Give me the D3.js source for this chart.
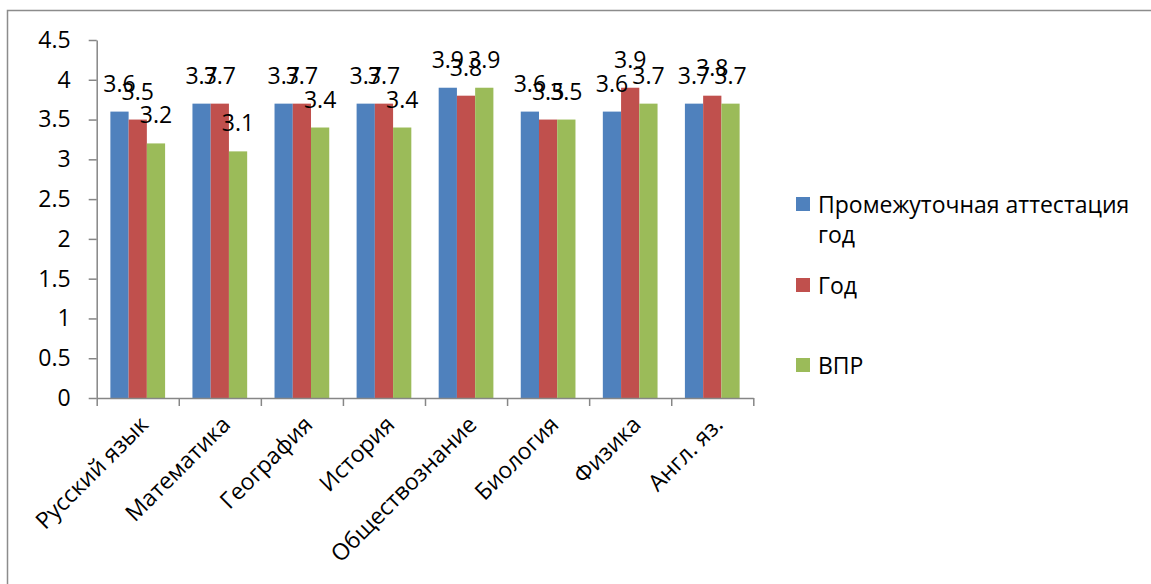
<!DOCTYPE html>
<html>
<head>
<meta charset="utf-8">
<script src="https://cdn.jsdelivr.net/npm/d3@7"></script>
<style>
  html, body { margin: 0; padding: 0; background: #fff; }
  svg { display: block; }
  text { font-family: "Open Sans", "Noto Sans", sans-serif; fill: #000; }
</style>
</head>
<body>
<svg id="chart" width="1151" height="584"></svg>
<script>
const categories = ["Русский язык", "Математика", "География", "История", "Обществознание", "Биология", "Физика", "Англ. яз."];
const seriesNames = ["Промежуточная аттестация год", "Год", "ВПР"];
const seriesLegendLines = [["Промежуточная аттестация", "год"], ["Год"], ["ВПР"]];
const seriesColors = ["#4F81BD", "#C0504D", "#9BBB59"];
const valuesAttestation = [3.6, 3.7, 3.7, 3.7, 3.9, 3.6, 3.6, 3.7];
const valuesYear = [3.5, 3.7, 3.7, 3.7, 3.8, 3.5, 3.9, 3.8];
const valuesVPR = [3.2, 3.1, 3.4, 3.4, 3.9, 3.5, 3.7, 3.7];
const yTicks = [0, 0.5, 1, 1.5, 2, 2.5, 3, 3.5, 4, 4.5];

const seriesValues = [valuesAttestation, valuesYear, valuesVPR];

const svg = d3.select("#chart");
const FS = 23;
const axisColor = "#868686";

// outer chart border (clipped by the picture edge at right/bottom)
svg.append("rect")
  .attr("x", 7.5).attr("y", 10.5)
  .attr("width", 1160).attr("height", 600)
  .attr("fill", "none").attr("stroke", "#8c8c8c").attr("stroke-width", 1.5);

const plotLeft = 96.7, plotRight = 753.3, plotTop = 40, plotBottom = 398;

const x = d3.scaleBand().domain(categories).range([plotLeft, plotRight]).paddingInner(0).paddingOuter(0);
const xs = d3.scaleBand().domain(seriesNames).range([0, x.bandwidth()]).paddingInner(0).paddingOuter(0.75);
const y = d3.scaleLinear().domain([0, 4.5]).range([plotBottom, plotTop]);

// bars
const groups = svg.append("g").selectAll("g")
  .data(categories)
  .join("g")
  .attr("transform", d => `translate(${x(d)},0)`);

seriesNames.forEach((s, si) => {
  groups.append("rect")
    .attr("x", x.bandwidth() * 0 + xs(s))
    .attr("y", (d, ci) => y(seriesValues[si][ci]))
    .attr("width", xs.bandwidth())
    .attr("height", (d, ci) => y(0) - y(seriesValues[si][ci]))
    .attr("fill", seriesColors[si]);
});

// y axis
const yAxis = d3.axisLeft(y).tickValues(yTicks).tickFormat(d => String(d))
  .tickSize(8).tickSizeOuter(0).tickPadding(18);
const gy = svg.append("g").attr("transform", `translate(${plotLeft},0)`).call(yAxis);
gy.selectAll("path,line").attr("stroke", axisColor).attr("stroke-width", 1.5);
gy.selectAll("text").style("font-size", FS + "px").attr("fill", "#000");

// x axis with ticks at category boundaries
const xb = d3.scaleLinear().domain([0, categories.length]).range([plotLeft, plotRight]);
const xAxis = d3.axisBottom(xb).tickValues(d3.range(categories.length + 1)).tickSize(8).tickSizeOuter(0).tickFormat("");
const gx = svg.append("g").attr("transform", `translate(0,${plotBottom})`).call(xAxis);
gx.selectAll("path,line").attr("stroke", axisColor).attr("stroke-width", 1.5);

// category labels rotated
svg.append("g").selectAll("text")
  .data(categories)
  .join("text")
  .attr("text-anchor", "end")
  .attr("transform", d => `translate(${x(d) + x.bandwidth() / 2 + 12},${plotBottom + 28}) rotate(-45)`)
  .style("font-size", FS + "px")
  .text(d => d);

// data labels
seriesNames.forEach((s, si) => {
  groups.append("text")
    .attr("text-anchor", "middle")
    .attr("x", xs(s) + xs.bandwidth() / 2)
    .attr("y", (d, ci) => y(seriesValues[si][ci]) - 20)
    .style("font-size", FS + "px")
    .text((d, ci) => String(seriesValues[si][ci]));
});

// legend
const legendRowY = [197, 278, 358];
const legend = svg.append("g");
seriesNames.forEach((s, si) => {
  const g = legend.append("g").attr("transform", `translate(796,${legendRowY[si]})`);
  g.append("rect").attr("x", 0).attr("y", 0).attr("width", 14).attr("height", 14).attr("fill", seriesColors[si]);
  seriesLegendLines[si].forEach((line, li) => {
    g.append("text").attr("x", 22).attr("y", 16 + li * 30)
      .style("font-size", FS + "px").text(line);
  });
});
</script>
</body>
</html>
